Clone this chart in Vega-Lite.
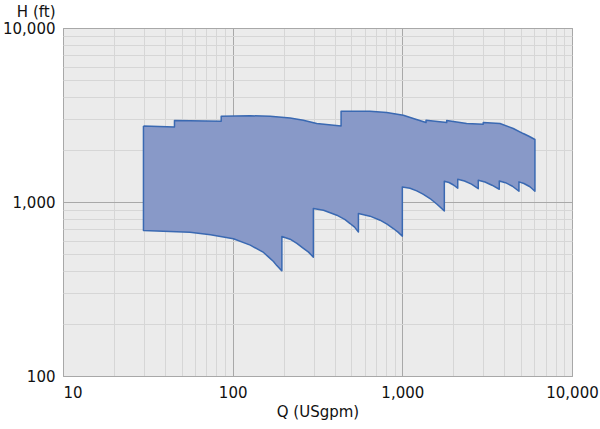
{
  "$schema": "https://vega.github.io/schema/vega-lite/v6.json",
  "width": 509,
  "height": 348,
  "autosize": {"type": "none"},
  "padding": {"left": 63, "top": 28, "right": 28, "bottom": 53},
  "background": "white",
  "config": {
    "view": {"fill": "#ebebeb", "stroke": "#a0a0a0", "strokeWidth": 1},
    "font": "DejaVu Sans"
  },
  "data": {
    "values": [
      {"i": 1, "Q": 29.8, "H": 2736},
      {"i": 2, "Q": 45.4, "H": 2700},
      {"i": 3, "Q": 45.4, "H": 2938},
      {"i": 4, "Q": 85.6, "H": 2912},
      {"i": 5, "Q": 85.6, "H": 3110},
      {"i": 6, "Q": 126.8, "H": 3131},
      {"i": 7, "Q": 166.3, "H": 3110},
      {"i": 8, "Q": 218, "H": 3042},
      {"i": 9, "Q": 261, "H": 2950},
      {"i": 10, "Q": 313, "H": 2824},
      {"i": 11, "Q": 435.5, "H": 2736},
      {"i": 12, "Q": 435.5, "H": 3323},
      {"i": 13, "Q": 645, "H": 3323},
      {"i": 14, "Q": 809, "H": 3267},
      {"i": 15, "Q": 1014, "H": 3153},
      {"i": 16, "Q": 1161, "H": 3018},
      {"i": 17, "Q": 1379, "H": 2861},
      {"i": 18, "Q": 1379, "H": 2950},
      {"i": 19, "Q": 1826, "H": 2861},
      {"i": 20, "Q": 1826, "H": 2938},
      {"i": 21, "Q": 2394, "H": 2824},
      {"i": 22, "Q": 2999, "H": 2798},
      {"i": 23, "Q": 2999, "H": 2861},
      {"i": 24, "Q": 3762, "H": 2824},
      {"i": 25, "Q": 4506, "H": 2644},
      {"i": 26, "Q": 5160, "H": 2474},
      {"i": 27, "Q": 5574, "H": 2388},
      {"i": 28, "Q": 6047, "H": 2286},
      {"i": 29, "Q": 6047, "H": 1153},
      {"i": 30, "Q": 5651, "H": 1224},
      {"i": 31, "Q": 5209, "H": 1277},
      {"i": 32, "Q": 4868, "H": 1305},
      {"i": 33, "Q": 4868, "H": 1153},
      {"i": 34, "Q": 4457, "H": 1232},
      {"i": 35, "Q": 4055, "H": 1291},
      {"i": 36, "Q": 3727, "H": 1322},
      {"i": 37, "Q": 3727, "H": 1184},
      {"i": 38, "Q": 3375, "H": 1249},
      {"i": 39, "Q": 3069, "H": 1303},
      {"i": 40, "Q": 2803, "H": 1334},
      {"i": 41, "Q": 2803, "H": 1192},
      {"i": 42, "Q": 2556, "H": 1266},
      {"i": 43, "Q": 2325, "H": 1320},
      {"i": 44, "Q": 2121, "H": 1352},
      {"i": 45, "Q": 2121, "H": 1200},
      {"i": 46, "Q": 2003, "H": 1252},
      {"i": 47, "Q": 1884, "H": 1294},
      {"i": 48, "Q": 1768, "H": 1317},
      {"i": 49, "Q": 1768, "H": 889},
      {"i": 50, "Q": 1601, "H": 971},
      {"i": 51, "Q": 1456, "H": 1047},
      {"i": 52, "Q": 1324, "H": 1109},
      {"i": 53, "Q": 1216, "H": 1158},
      {"i": 54, "Q": 1110, "H": 1200},
      {"i": 55, "Q": 1000, "H": 1221},
      {"i": 56, "Q": 1000, "H": 636},
      {"i": 57, "Q": 943, "H": 671},
      {"i": 58, "Q": 885, "H": 704},
      {"i": 59, "Q": 812.6, "H": 746},
      {"i": 60, "Q": 739, "H": 786},
      {"i": 61, "Q": 645, "H": 829},
      {"i": 62, "Q": 551, "H": 859},
      {"i": 63, "Q": 551, "H": 673},
      {"i": 64, "Q": 523, "H": 717},
      {"i": 65, "Q": 492, "H": 752},
      {"i": 66, "Q": 459.7, "H": 791},
      {"i": 67, "Q": 411, "H": 840},
      {"i": 68, "Q": 343, "H": 897},
      {"i": 69, "Q": 299, "H": 918},
      {"i": 70, "Q": 299, "H": 482},
      {"i": 71, "Q": 280, "H": 515},
      {"i": 72, "Q": 260, "H": 543},
      {"i": 73, "Q": 239, "H": 578},
      {"i": 74, "Q": 218, "H": 611},
      {"i": 75, "Q": 195, "H": 634},
      {"i": 76, "Q": 195, "H": 402},
      {"i": 77, "Q": 182, "H": 431},
      {"i": 78, "Q": 174, "H": 455},
      {"i": 79, "Q": 163, "H": 482},
      {"i": 80, "Q": 152, "H": 513},
      {"i": 81, "Q": 127, "H": 565},
      {"i": 82, "Q": 101, "H": 615},
      {"i": 83, "Q": 74, "H": 648},
      {"i": 84, "Q": 56, "H": 670},
      {"i": 85, "Q": 29.8, "H": 686},
      {"i": 86, "Q": 29.8, "H": 2736}
    ]
  },
  "mark": {
    "type": "line",
    "fill": "#8899c8",
    "stroke": "#3a69b2",
    "strokeWidth": 1.5,
    "strokeJoin": "round"
  },
  "encoding": {
    "x": {
      "field": "Q",
      "type": "quantitative",
      "scale": {"type": "log", "domain": [10, 10000], "nice": false},
      "axis": {
        "title": "Q (USgpm)",
        "values": [10, 20, 30, 40, 50, 60, 70, 80, 90, 100, 200, 300, 400, 500, 600, 700, 800, 900, 1000, 2000, 3000, 4000, 5000, 6000, 7000, 8000, 9000, 10000],
        "labelExpr": "datum.value == 10 || datum.value == 100 || datum.value == 1000 || datum.value == 10000 ? format(datum.value, ',') : ''",
        "gridColor": {"condition": {"test": "datum.value == 10 || datum.value == 100 || datum.value == 1000 || datum.value == 10000", "value": "#a8a8a8"}, "value": "#d6d6d6"},
        "gridWidth": 1,
        "ticks": false,
        "domain": false,
        "labelFlush": false,
        "labelAlign": {"condition": {"test": "datum.value == 10", "value": "left"}, "value": "center"},
        "labelFontSize": 15,
        "labelColor": "#111111",
        "labelPadding": 9,
        "labelBound": false,
        "labelOverlap": false,
        "titleFontSize": 15,
        "titleFontWeight": "normal",
        "titleColor": "#111111",
        "titlePadding": 4
      }
    },
    "y": {
      "field": "H",
      "type": "quantitative",
      "scale": {"type": "log", "domain": [100, 10000], "nice": false},
      "axis": {
        "title": "H (ft)",
        "values": [100, 200, 300, 400, 500, 600, 700, 800, 900, 1000, 2000, 3000, 4000, 5000, 6000, 7000, 8000, 9000, 10000],
        "labelExpr": "datum.value == 100 || datum.value == 1000 || datum.value == 10000 ? format(datum.value, ',') : ''",
        "gridColor": {"condition": {"test": "datum.value == 100 || datum.value == 1000 || datum.value == 10000", "value": "#a8a8a8"}, "value": "#d6d6d6"},
        "gridWidth": 1,
        "ticks": false,
        "domain": false,
        "labelFlush": false,
        "labelOverlap": false,
        "labelFontSize": 15,
        "labelColor": "#111111",
        "labelPadding": 8,
        "titleFontSize": 15,
        "titleFontWeight": "normal",
        "titleColor": "#111111",
        "titleAngle": 0,
        "titleAlign": "right",
        "titleBaseline": "middle",
        "titleX": -8,
        "titleY": -17
      }
    },
    "order": {"field": "i", "type": "quantitative"}
  }
}
